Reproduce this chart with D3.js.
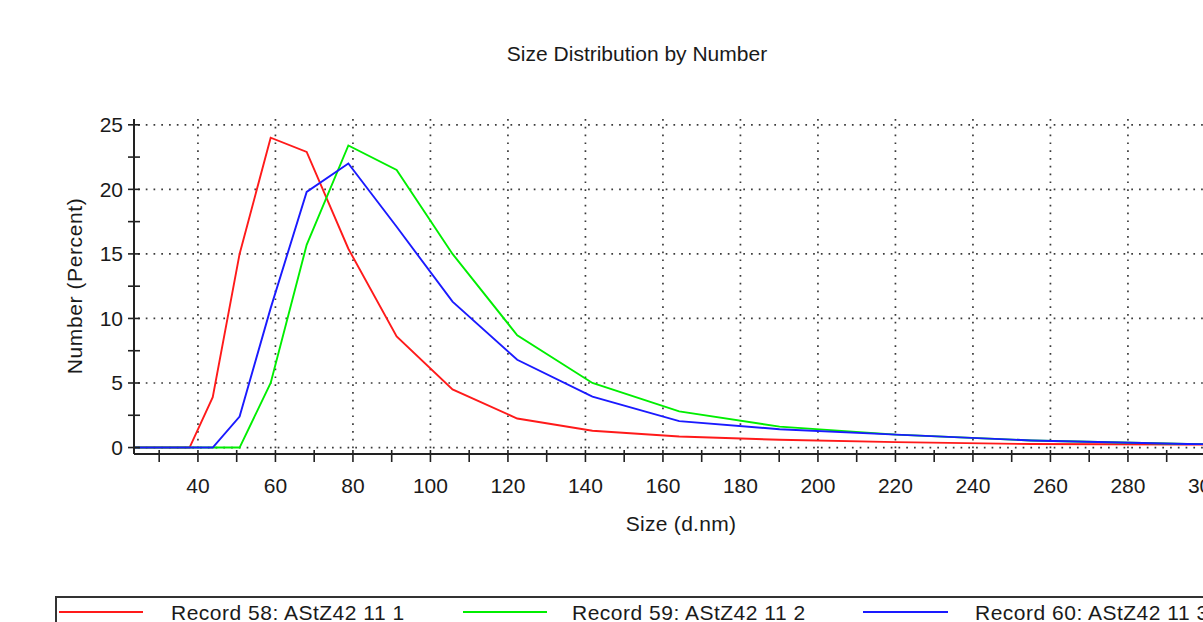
<!DOCTYPE html>
<html>
<head>
<meta charset="utf-8">
<script src="https://cdn.jsdelivr.net/npm/d3@7"></script>
<style>
body { margin: 0; background: #fff; }
text { font-family: "Liberation Sans", Arial, sans-serif; fill: #1a1a1a; }
</style>
</head>
<body>
<svg id="chart" width="1203" height="622"></svg>
<script>
// size bins (d.nm) and number % for each record
var sizes = [21.04, 24.36, 28.21, 32.67, 37.84, 43.82, 50.75, 58.77, 68.06, 78.82,
             91.28, 105.7, 122.4, 141.8, 164.2, 190.1, 220.2, 255.0, 295.3, 342.0];
var rec58 = [0, 0, 0, 0, 0, 3.9, 15.0, 24.0, 22.9, 15.4,
             8.6, 4.5, 2.25, 1.3, 0.85, 0.6, 0.42, 0.27, 0.24, 0.15];
var rec59 = [0, 0, 0, 0, 0, 0, 0, 5.0, 15.7, 23.4,
             21.5, 15.0, 8.7, 5.0, 2.8, 1.62, 1.0, 0.55, 0.27, 0.17];
var rec60 = [0, 0, 0, 0, 0, 0, 2.4, 10.8, 19.8, 22.0,
             17.1, 11.3, 6.8, 3.95, 2.05, 1.42, 1.0, 0.55, 0.27, 0.17];

var seriesNames = ["Record 58: AStZ42 11 1", "Record 59: AStZ42 11 2", "Record 60: AStZ42 11 3"];
var seriesColors = ["#ff1a1a", "#00ee00", "#1a1aff"];

var xLabelTicks = d3.range(40, 301, 20);
var xMinorTicks = d3.range(30, 311, 10);
var yLabelTicks = [0, 5, 10, 15, 20, 25];
var yMinorTicks = d3.range(0, 25.1, 2.5);

var plotLeft = 134,
	plotTop = 119,
	plotBottom = 454,
	zeroY = 447.7;

var svg = d3.select("#chart");

var x = d3.scaleLinear()
	.domain([23.5, 310])
	.range([plotLeft, plotLeft + 286.5 * 3.875]);
var y = d3.scaleLinear()
	.domain([-0.5, 25.45])
	.range([plotBottom, plotTop]);

// title
svg.append("text")
	.attr("x", 637)
	.attr("y", 61)
	.attr("text-anchor", "middle")
	.style("font-size", "21px")
	.text("Size Distribution by Number");

// dotted grid
svg.append("g").selectAll("line")
	.data(yLabelTicks)
	.enter().append("line")
	.attr("x1", plotLeft + 4)
	.attr("x2", 1210)
	.attr("y1", d => y(d))
	.attr("y2", d => y(d))
	.attr("stroke", "#3a3a3a")
	.attr("stroke-width", 1.7)
	.attr("stroke-dasharray", "1.7,6.06");
svg.append("g").selectAll("line")
	.data(xLabelTicks)
	.enter().append("line")
	.attr("x1", d => x(d))
	.attr("x2", d => x(d))
	.attr("y1", plotTop)
	.attr("y2", zeroY + 2)
	.attr("stroke", "#3a3a3a")
	.attr("stroke-width", 1.7)
	.attr("stroke-dasharray", "1.7,6.1");

// data lines
svg.append("clipPath").attr("id", "plotclip")
	.append("rect")
	.attr("x", plotLeft)
	.attr("y", plotTop - 5)
	.attr("width", 1203 - plotLeft)
	.attr("height", plotBottom - plotTop + 5);

var line = d3.line()
	.x((d, i) => x(sizes[i]))
	.y(d => y(d));

svg.append("g")
	.attr("clip-path", "url(#plotclip)")
	.selectAll("path")
	.data([rec58, rec59, rec60])
	.enter().append("path")
	.attr("d", line)
	.attr("fill", "none")
	.attr("stroke", (d, i) => seriesColors[i])
	.attr("stroke-width", 1.9);

// axes
var axes = svg.append("g").attr("stroke", "#222");
axes.append("line")
	.attr("x1", plotLeft).attr("x2", plotLeft)
	.attr("y1", plotTop).attr("y2", plotBottom)
	.attr("stroke-width", 2);
axes.append("line")
	.attr("x1", plotLeft).attr("x2", 1210)
	.attr("y1", plotBottom).attr("y2", plotBottom)
	.attr("stroke-width", 2);
axes.selectAll(".yt")
	.data(yMinorTicks)
	.enter().append("line")
	.attr("x1", plotLeft - 6).attr("x2", plotLeft + 6)
	.attr("y1", d => y(d)).attr("y2", d => y(d))
	.attr("stroke-width", 1.6);
axes.selectAll(".xt")
	.data(xMinorTicks)
	.enter().append("line")
	.attr("x1", d => x(d)).attr("x2", d => x(d))
	.attr("y1", plotBottom - 4).attr("y2", plotBottom + 8)
	.attr("stroke-width", 1.6);

svg.append("g").selectAll("text")
	.data(yLabelTicks)
	.enter().append("text")
	.attr("x", 123)
	.attr("y", d => y(d) + 7.5)
	.attr("text-anchor", "end")
	.style("font-size", "21px")
	.text(d => d);
svg.append("g").selectAll("text")
	.data(xLabelTicks)
	.enter().append("text")
	.attr("x", d => x(d))
	.attr("y", 493)
	.attr("text-anchor", "middle")
	.style("font-size", "21px")
	.text(d => d);

// axis titles
svg.append("text")
	.attr("x", 681)
	.attr("y", 531)
	.attr("text-anchor", "middle")
	.style("font-size", "21px")
	.style("letter-spacing", "0.3px")
	.text("Size (d.nm)");
svg.append("text")
	.attr("transform", "translate(82,286) rotate(-90)")
	.attr("text-anchor", "middle")
	.style("font-size", "21px")
	.style("letter-spacing", "0.6px")
	.text("Number (Percent)");

// legend box, runs off the page like the original
var legend = svg.append("g");
legend.append("rect")
	.attr("x", 56)
	.attr("y", 597)
	.attr("width", 1200)
	.attr("height", 60)
	.attr("fill", "none")
	.attr("stroke", "#333")
	.attr("stroke-width", 2);
var legendX = [59, 463, 863],
	legendLen = [84, 84, 85],
	legendTextX = [171, 572, 975];
seriesNames.forEach(function(name, i) {
	legend.append("line")
		.attr("x1", legendX[i])
		.attr("x2", legendX[i] + legendLen[i])
		.attr("y1", 612)
		.attr("y2", 612)
		.attr("stroke", seriesColors[i])
		.attr("stroke-width", 2);
	legend.append("text")
		.attr("x", legendTextX[i])
		.attr("y", 620)
		.style("font-size", "21px")
		.style("letter-spacing", "0.5px")
		.text(name);
});
</script>
</body>
</html>
